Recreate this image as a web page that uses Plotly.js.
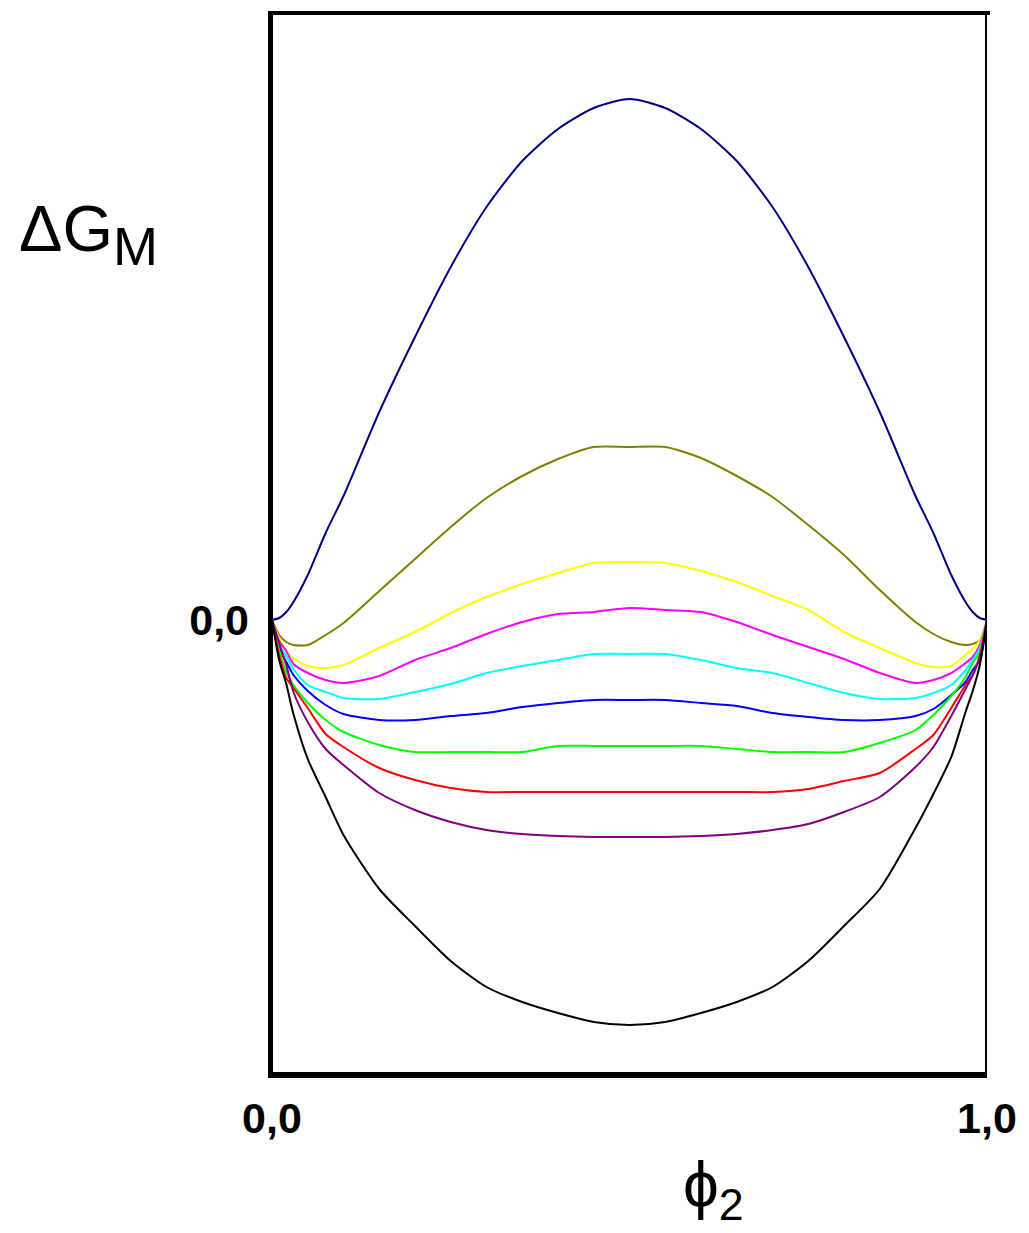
<!DOCTYPE html>
<html>
<head>
<meta charset="utf-8">
<script src="https://cdn.plot.ly/plotly-3.0.1.min.js"></script>
<style>html,body{margin:0;padding:0;background:#fff;}#chart{width:1029px;height:1233px;}</style>
</head>
<body>
<div id="chart"></div>
<script>
// Volume fraction of component 2
var phi = [0, 0.01, 0.02, 0.03, 0.05, 0.075, 0.1, 0.15, 0.2, 0.25, 0.3, 0.35, 0.4, 0.45, 0.5,
           0.55, 0.6, 0.65, 0.7, 0.75, 0.8, 0.85, 0.9, 0.925, 0.95, 0.97, 0.98, 0.99, 1.0];

// Free energy of mixing curves (arbitrary units), top to bottom
var gNavy    = [0, 0.02, 0.08, 0.18, 0.45, 0.87, 1.24, 2.08, 2.83, 3.53, 4.13, 4.59, 4.91, 5.12, 5.21,
                5.12, 4.91, 4.59, 4.13, 3.53, 2.83, 2.08, 1.24, 0.87, 0.45, 0.18, 0.08, 0.02, 0];
var gOlive   = [0, -0.15, -0.22, -0.25, -0.25, -0.15, -0.03, 0.29, 0.61, 0.93, 1.22, 1.44, 1.61, 1.73, 1.73,
                1.73, 1.62, 1.44, 1.23, 0.95, 0.65, 0.30, -0.02, -0.14, -0.22, -0.25, -0.24, -0.20, 0];
var gYellow  = [0, -0.18, -0.31, -0.38, -0.46, -0.48, -0.45, -0.28, -0.12, 0.07, 0.23, 0.36, 0.47, 0.57, 0.58,
                0.57, 0.49, 0.38, 0.24, 0.10, -0.12, -0.28, -0.43, -0.47, -0.46, -0.35, -0.29, -0.20, 0];
var gMagenta = [0, -0.21, -0.31, -0.44, -0.53, -0.60, -0.63, -0.56, -0.40, -0.28, -0.14, -0.02, 0.06, 0.08, 0.12,
                0.10, 0.08, -0.02, -0.15, -0.27, -0.39, -0.53, -0.63, -0.60, -0.53, -0.43, -0.37, -0.25, 0];
var gCyan    = [0, -0.25, -0.36, -0.49, -0.65, -0.72, -0.78, -0.79, -0.72, -0.64, -0.53, -0.46, -0.40, -0.34, -0.34,
                -0.34, -0.40, -0.48, -0.53, -0.63, -0.73, -0.79, -0.78, -0.73, -0.65, -0.50, -0.40, -0.28, 0];
var gBlue    = [0, -0.28, -0.42, -0.55, -0.71, -0.85, -0.94, -1.00, -1.00, -0.96, -0.93, -0.87, -0.83, -0.80, -0.80,
                -0.80, -0.83, -0.86, -0.93, -0.97, -1.00, -1.00, -0.96, -0.89, -0.75, -0.62, -0.50, -0.40, 0];
var gGreen   = [0, -0.30, -0.52, -0.65, -0.83, -1.00, -1.12, -1.25, -1.32, -1.32, -1.32, -1.32, -1.26, -1.26, -1.26,
                -1.26, -1.26, -1.29, -1.32, -1.32, -1.32, -1.23, -1.10, -0.95, -0.76, -0.57, -0.43, -0.32, 0];
var gRed     = [0, -0.35, -0.58, -0.68, -0.88, -1.14, -1.27, -1.48, -1.60, -1.68, -1.72, -1.72, -1.72, -1.72, -1.72,
                -1.72, -1.72, -1.72, -1.72, -1.69, -1.61, -1.53, -1.29, -1.15, -0.88, -0.65, -0.55, -0.35, 0];
var gPurple  = [0, -0.23, -0.45, -0.72, -1.02, -1.29, -1.45, -1.73, -1.90, -2.02, -2.10, -2.14, -2.16, -2.17, -2.17,
                -2.17, -2.16, -2.14, -2.10, -2.04, -1.92, -1.77, -1.47, -1.27, -0.96, -0.69, -0.55, -0.38, 0];
var gBlack   = [0, -0.40, -0.64, -0.94, -1.39, -1.77, -2.15, -2.69, -3.06, -3.41, -3.67, -3.82, -3.93, -4.02, -4.05,
                -4.02, -3.93, -3.82, -3.67, -3.41, -3.06, -2.69, -2.08, -1.74, -1.37, -0.92, -0.71, -0.45, 0];

var xTickVals = [0, 1];
var xTickText = ['0,0', '1,0'];
var yTickVals = [0];
var yTickText = ['0,0'];

var series = [
  {y: gNavy, c: '#000080'},
  {y: gOlive, c: '#808000'},
  {y: gYellow, c: '#FFFF00'},
  {y: gMagenta, c: '#FF00FF'},
  {y: gCyan, c: '#00FFFF'},
  {y: gBlue, c: '#0000FF'},
  {y: gGreen, c: '#00FF00'},
  {y: gRed, c: '#FF0000'},
  {y: gPurple, c: '#800080'},
  {y: gBlack, c: '#000000'}
];

var traces = series.map(function (s) {
  return {x: phi, y: s.y, type: 'scatter', mode: 'lines',
          line: {color: s.c, width: 2, shape: 'spline', smoothing: 0.7},
          hoverinfo: 'skip', showlegend: false};
});

var tickFont = {family: 'Liberation Sans, Arial, sans-serif', size: 43, color: '#000', weight: 'bold'};

var layout = {
  width: 1029, height: 1233,
  margin: {l: 272, r: 42, t: 13, b: 158, pad: 0},
  paper_bgcolor: '#fff', plot_bgcolor: '#fff',
  showlegend: false,
  xaxis: {range: [0, 1], showgrid: false, zeroline: false, showline: false, ticks: '',
          tickmode: 'array', tickvals: xTickVals, ticktext: xTickText, tickfont: tickFont,
          ticklabelstandoff: 14},
  yaxis: {range: [-4.55, 6.07], showgrid: false, zeroline: false, showline: false, ticks: '',
          tickmode: 'array', tickvals: yTickVals, ticktext: yTickText, tickfont: tickFont,
          ticklabelstandoff: 22},
  shapes: [
    {type: 'line', xref: 'paper', yref: 'paper', x0: -0.0021, x1: -0.0021, y0: -0.0028, y1: 1.0019,
     line: {color: '#000', width: 5}, layer: 'below'},
    {type: 'line', xref: 'paper', yref: 'paper', x0: -0.0056, x1: 1.0042, y0: 1.0, y1: 1.0,
     line: {color: '#000', width: 4}, layer: 'below'},
    {type: 'line', xref: 'paper', yref: 'paper', x0: 0.9986, x1: 0.9986, y0: 0, y1: 1.0,
     line: {color: '#000', width: 2}, layer: 'below'},
    {type: 'line', xref: 'paper', yref: 'paper', x0: -0.0056, x1: 1.0, y0: 0, y1: 0,
     line: {color: '#000', width: 6}, layer: 'below'}
  ],
  annotations: [
    {xref: 'paper', yref: 'paper', x: -0.3566, y: 0.833, xanchor: 'left', yanchor: 'top',
     text: 'ΔG<sub><span style="font-size:54px">M</span></sub>', showarrow: false,
     font: {family: 'Liberation Sans, Arial, sans-serif', size: 65, color: '#000'}},
    {xref: 'paper', yref: 'paper', x: 0.572, y: -0.068, xanchor: 'left', yanchor: 'top',
     text: 'ϕ<sub>2</sub>', showarrow: false,
     font: {family: 'Liberation Sans, Arial, sans-serif', size: 64, color: '#000'}}
  ]
};

Plotly.newPlot('chart', traces, layout, {staticPlot: true, displayModeBar: false});
</script>
</body>
</html>
